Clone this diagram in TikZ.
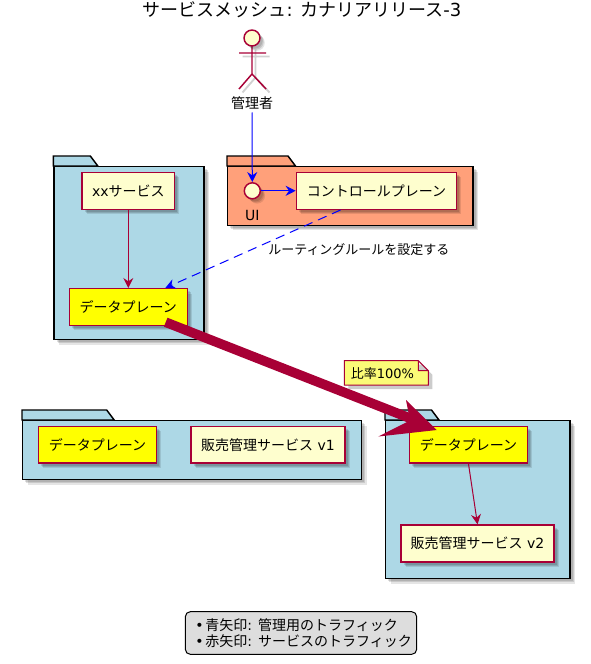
\documentclass[tikz,border=0pt]{standalone}
\usepackage{fontspec}
\setmainfont{DejaVu Sans}
\newfontfamily\jpfont{Noto Sans CJK JP}
\newcommand{\jp}[1]{{\jpfont #1}}
\definecolor{boxfill}{HTML}{FEFECE}
\definecolor{boxline}{HTML}{A80036}
\definecolor{plane}{HTML}{FFFF00}
\definecolor{folderblue}{HTML}{ADD8E6}
\definecolor{folderorange}{HTML}{FFA07A}
\definecolor{notefill}{HTML}{FBFB77}
\definecolor{legendfill}{HTML}{DDDDDD}
\definecolor{mgmt}{HTML}{0000FF}
\usetikzlibrary{arrows.meta, positioning, shadows, calc}
\newcommand{\foldertab}[3]{%
  \draw[tabline, fill=#2] (#1.north west) -- ++(0,-10) -- ++(#3,0) -- ++(7.5,10) -- cycle;}
\newcommand{\actorlines}{%
  (252,46) -- (252,74) (239,53) -- (266,53) (239,89) -- (252,74) -- (266,89)}

\begin{document}
\begin{tikzpicture}[
  x=0.75pt, y=-0.75pt,
  softshadow/.style={
    drop shadow={shadow xshift=3.6pt, shadow yshift=-3.6pt, fill=black, opacity=0.10},
    drop shadow={shadow xshift=2.8pt, shadow yshift=-2.8pt, fill=black, opacity=0.12},
    drop shadow={shadow xshift=2pt, shadow yshift=-2pt, fill=black, opacity=0.12}},
  box/.style={draw=boxline, fill=boxfill, line width=1.1pt, minimum height=27.7pt,
              inner sep=0pt, align=center, font=\fontsize{10.5}{12}\selectfont, softshadow},
  planebox/.style={box, fill=plane, minimum width=88.5pt},
  folderbody/.style={draw=black, line width=1.1pt, inner sep=0pt, softshadow},
  tabline/.style={draw=black, line width=1.1pt},
  link/.style={-{Stealth[length=7.5pt, width=7.5pt, inset=2.5pt]}, line width=0.75pt},
  small/.style={font=\fontsize{9.75}{12}\selectfont, inner sep=0pt}
]
\useasboundingbox (0,0) rectangle (590,664);

\node[font=\fontsize{13.5}{16}\selectfont, inner sep=0pt] (title) at (302,10)
  {\jp{サービスメッシュ}: \jp{カナリアリリース}-3};

% folders
\node[folderbody, fill=folderblue, minimum width=112.5pt, minimum height=129.75pt,
      anchor=north west] (svcfolder) at (53.3,166) {};
\foldertab{svcfolder}{folderblue}{37}
\node[folderbody, fill=folderorange, minimum width=184pt, minimum height=44pt,
      anchor=north west] (uifolder) at (227,166) {};
\foldertab{uifolder}{folderorange}{61}
\node[folderbody, fill=folderblue, minimum width=254.25pt, minimum height=44.25pt,
      anchor=north west] (oldfolder) at (22,420) {};
\foldertab{oldfolder}{folderblue}{84.7}
\node[folderbody, fill=folderblue, minimum width=138.25pt, minimum height=118.5pt,
      anchor=north west] (newfolder) at (385,420) {};
\foldertab{newfolder}{folderblue}{46.5}

% actor
\draw[black!18, line width=1.4pt, shift={(3.5,3.5)}] \actorlines;
\draw[boxline, line width=1.1pt] \actorlines;
\node[circle, draw=boxline, fill=boxfill, line width=1.1pt, minimum size=12pt,
      inner sep=0pt, softshadow] (admin) at (252,38) {};
\node[font=\fontsize{10.5}{12}\selectfont, inner sep=0pt, below=43.5pt of admin.center]
  (adminlabel) {\jp{管理者}};

% nodes
\node[box, minimum width=69.5pt] (svc) at (128.3,190.8) {xx\jp{サービス}};
\node[planebox, below=58.5pt of svc.south, anchor=north] (dpa) {\jp{データプレーン}};
\node[circle, draw=boxline, fill=boxfill, line width=1.1pt, minimum size=12pt,
      inner sep=0pt, softshadow] (ui) at (252.3,190.8) {};
\node[below=14.5pt of ui.center, font=\fontsize{10.5}{12}\selectfont, inner sep=0pt]
  (uilabel) {UI};
\node[box, minimum width=120.2pt] (control) at (376.5,190.8) {\jp{コントロールプレーン}};
\node[planebox] (dpb) at (97.5,444.7) {\jp{データプレーン}};
\node[box, minimum width=115.5pt] (salesa) at (268,444.7) {\jp{販売管理サービス} v1};
\node[planebox] (dpc) at (468.5,444.7) {\jp{データプレーン}};
\node[box, minimum width=115pt] (salesb) at (477.5,543.5) {\jp{販売管理サービス} v2};

% note
\coordinate (notecorner) at (344.3,360.7);
\fill[black, opacity=0.2] (348.3,364.7) -- ++(74,0) -- ++(10,10) -- ++(0,14.3) -- ++(-84,0) -- cycle;
\draw[boxline, fill=notefill, line width=0.75pt] (notecorner) -- ++(74,0) -- ++(10,10)
  -- ++(0,14.3) -- ++(-84,0) -- cycle (418.3,360.7) -- ++(0,10) -- ++(10,0);
\node[small, anchor=west] (note) at (350.5,373.5) {\jp{比率}100\%};

% connectors
\draw[link, mgmt] (adminlabel.south) ++(0,3) -- (ui.north);
\draw[link, mgmt] (ui) -- (control);
\draw[link, mgmt, dashed, dash pattern=on 7pt off 4.5pt] (control.south) ++(-36,0) -- ($(dpa.north)+(37,0)$);
\node[small, anchor=west] (rulelabel) at (268,249.5) {\jp{ルーティングルールを設定する}};
\draw[link, boxline] (svc) -- (dpa);
\draw[link, boxline] (dpc.south) -- (salesb.north);

\coordinate (flowstart) at (165.7,322.2);
\coordinate (flowtip) at (436.7,430);
\draw[boxline, line width=7.2pt] (flowstart) -- (412,419);
\fill[boxline] (flowtip) -- (406,400) -- (410,420.5) -- (378.3,436.5) -- cycle;

% legend
\node[draw=black, fill=legendfill, rounded corners=3.75pt, line width=0.75pt,
      minimum width=173.5pt, minimum height=32pt, inner sep=0pt, align=left,
      font=\fontsize{10.5}{12}\selectfont] (legend) at (301,633)
  {\hspace*{4pt}\makebox[7.5pt][l]{•}\jp{青矢印}: \jp{管理用のトラフィック}\\
   \hspace*{4pt}\makebox[7.5pt][l]{•}\jp{赤矢印}: \jp{サービスのトラフィック}};

\end{tikzpicture}
\end{document}
